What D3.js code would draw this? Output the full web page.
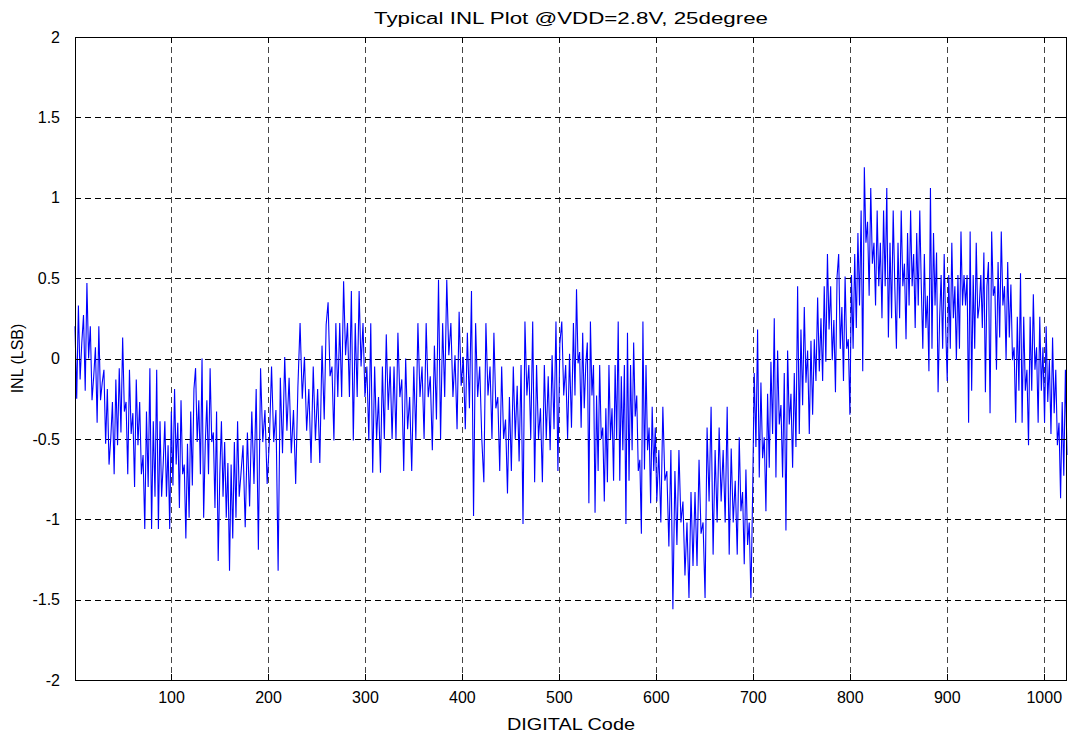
<!DOCTYPE html>
<html><head><meta charset="utf-8">
<script src="https://cdn.jsdelivr.net/npm/d3@7"></script>
<style>
html,body{margin:0;padding:0;background:#fff;}
text{font-family:"Liberation Sans",Arial,sans-serif;}
</style></head>
<body><svg id="c" width="1070" height="735"></svg>
<script>
const title = "Typical INL Plot @VDD=2.8V, 25degree";
const xLabel = "DIGITAL Code";
const yLabel = "INL (LSB)";
const xTicks = [100,200,300,400,500,600,700,800,900,1000];
const yTicks = [-2,-1.5,-1,-0.5,0,0.5,1,1.5,2];
const xDomain = [1,1024];
const yDomain = [-2,2];
// start code of each block of readings (last entry = final code)
const blockStarts = [1,87,172,258,344,429,515,601,686,772,858,943,1024];
const inl01 = [0.2,-0.25,0.33,-0.13,0.1,0.27,-0.2,0.47,0,0.2,-0.26,-0.11,0.07,-0.4,0.2,-0.26,-0.15,-0.07,-0.53,-0.19,-0.66,-0.5,-0.27,-0.72,-0.13,-0.54,-0.06,-0.46,0.13,-0.33,-0.27,-0.72,-0.07,-0.47,-0.34,-0.8,-0.13,-0.54,-0.27,-0.72,-0.6,-1.06,-0.33,-0.8,-0.06,-1.06,-0.39,-0.86,-0.07];
const inl02 = [-1.06,-0.39,-0.86,-0.65,-0.39,-0.86,-0.54,-1.06,-0.33,-0.79,-0.19,-0.66,-0.4,-0.93,-0.26,-0.72,-0.66,-1.12,-0.53,-0.99,-0.33,-0.79,-0.19,-0.06,-0.52,-0.26,-0.72,0,-0.99,-0.53,-0.26,-0.72,-0.06,-0.52,-0.46,-0.93,-0.33,-1.26,-0.72,-0.39,-0.86,-0.52,-0.99,-0.65,-1.32,-0.66,-1.12,-0.52,-0.99,-0.39,-0.86];
const inl03 = [-0.73,-0.54,-1.05,-0.46,-0.92,-0.33,-0.78,-0.19,-1.19,-0.06,-0.52,-0.32,-0.78,-0.52,-0.05,-0.52,-0.32,-1.32,-0.12,-0.59,0.01,-0.45,-0.12,-0.59,-0.32,-0.78,-0.18,0.22,-0.25,0.01,-0.45,-0.19,-0.65,-0.05,-0.51,-0.19,-0.65,0.08];
const inl04 = [-0.38,0.21,0.35,-0.11,-0.05,-0.51,0.22,-0.24,0.22,-0.24,0.48,0.02,0.22,-0.24,0.42,-0.51,0.22,-0.24,0.42,-0.05,0.22,-0.24,-0.05,-0.51,0.22,-0.71,-0.05,-0.5,-0.24,-0.71,-0.05,-0.5,0.15,-0.32,-0.05,-0.5,-0.05,-0.5,0.16,-0.24,-0.13,-0.7,0];
const inl05 = [-0.44,-0.24,-0.7,-0.05,-0.5,0.22,-0.24,-0.05,-0.5,0.22,-0.24,-0.11,-0.57,0.08,-0.38,0.49,-0.5,0.22,-0.24,0.49,0.02,0.22,-0.24,0.02,-0.44,0.29,-0.17,0.01,-0.44,0.16,-0.31,0.42,-0.98,0.22,-0.24,-0.05,-0.5,-0.77,0.22,-0.23];
const inl06 = [-0.05,-0.5,0.16,-0.31,-0.24,-0.7,-0.05,-0.5,-0.38,-0.84,-0.24,-0.7,-0.05,-0.5,-0.17,-0.64,-0.04,-1.03,0.23,-0.23,-0.04,-0.5,0.23,-0.77,-0.04,-0.5,-0.31,-0.77,-0.04,-0.5,-0.11,-0.57,0.02,-0.44,0.23,-0.7,0.09,0.23,-0.23,-0.04,-0.5,0.03,-0.43];
const inl07 = [0.22,-0.23,0.43,-0.03,0.04,-0.43,0.16,-0.31,-0.04,0.1,-0.9,0.23,-0.23,-0.04,-0.96,-0.23,-0.7,-0.04,-0.5,-0.43,-0.89,-0.31,-0.77,-0.04,-0.5,-0.31,-0.76,-0.04,-0.5,0.23,-0.76,-0.11,-0.57,-0.04,-1.03,0.16,-0.76,-0.04,-0.57,0.1,-0.36,-0.23,-0.7,-0.63,-1.09,0.23,-0.69,-0.04,-0.57,-0.43,-0.9,-0.3,-0.7,-0.43];
const inl08 = [-0.89,-0.57,-1.02,-0.3,-0.76,-0.7,-1.17,-0.57,-1.56,-0.7,-1.16,-0.57,-1.02,-0.89,-1.35,-1.02,-1.49,-0.83,-1.29,-0.83,-1.29,-0.63,-1.09,-1.02,-1.49,-0.43,-0.89,-0.3,-1.22,-0.57,-1.02,-0.43,-0.89,-0.57,-1.02,-0.3,-1.22,-0.56,-1.02,-0.76,-1.22];
const inl09 = [-0.49,-0.95,-0.83,-1.28,-0.69,-1.16,-1.02,-1.49,-0.86,-0.09,-0.55,0.18,-0.74,-0.15,-0.62,-0.49,-0.95,-0.22,-0.68,-0.02,-0.47,0.25,-0.74,0.05,-0.41,-0.29,-0.74,-0.09,-1.07,0.05,-0.41,-0.22,-0.68,-0.09,-0.55,0.45,-0.47,0.18,-0.29,0.32,-0.15,0.05,-0.47,0.11,-0.35,0.12,-0.14,0.38,-0.08,0.25];
const inl10 = [-0.14,0.45,-0.02,0.65,0.18,0.45,-0.01,0.24,-0.21,0.51,0.65,0.06,0.32,-0.14,0.51,0.06,0.12,-0.35,0.52,0.06,0.65,0.19,0.78,0.33,0.92,-0.08,1.19,0.72,0.85,0.39,1.06,0.59,0.72,0.33,0.92,0.45,0.72,0.25,0.92,0.45,1.06,0.13,0.72,0.25,0.92,0.45,0.06,0.72,0.25,0.92,0.45,0.59];
const inl11 = [0.12,0.78,0.33,0.92,0.45,0.65,0.19,0.78,0.33,0.92,0.45,0.06,0.65,0.19,0.39,-0.08,1.06,0.06,0.78,0.33,0.66,-0.21,0.25,0.52,0.06,0.65,0.19,-0.14,0.52,0.06,0.72,0.25,0.45,-0.01,0.52,0.06,0.79,0.33,0.52,0.33,0.52,-0.4,0.79,-0.2,0.52,0.06,0.72,0.25,0.33,0.52,0.19,0.66,-0.21,0.45];
const inl12 = [0.6,-0.34,0.79,0.39,0.45,-0.07,0.6,0.13,0.79,0.33,0.45,-0.01,0.6,0.13,0.46,-0.01,0.07,-0.4,0.26,-0.2,0.53,-0.4,0.26,-0.2,-0.07,-0.54,0.26,-0.2,0.4,-0.07,0.07,-0.4,0.26,-0.2,0.07,-0.4,0.2,-0.27,-0.01,-0.47,0.13,-0.34,-0.07,-0.54,-0.4,-0.87,-0.27,-0.73,-0.07,-0.6];
const blocks = [inl01,inl02,inl03,inl04,inl05,inl06,inl07,inl08,inl09,inl10,inl11,inl12];

// build points (code, value)
const points = [];
blocks.forEach((b,i)=>{
  const s = blockStarts[i], e = blockStarts[i+1];
  const last = (i === blocks.length-1);
  b.forEach((v,j)=>{
    const code = last ? s + j*(e-s)/(b.length-1) : s + j*(e-s)/b.length;
    points.push([code, v]);
  });
});

const L=75, R=1067, T=37, B=680;
const svg = d3.select("#c");
const x = d3.scaleLinear().domain(xDomain).range([L,R]);
const y = d3.scaleLinear().domain(yDomain).range([B,T]);

// grid
const grid = svg.append("g").attr("stroke","#000").attr("stroke-width",1)
  .attr("stroke-dasharray","6,4").attr("shape-rendering","crispEdges");
xTicks.forEach(t=>grid.append("line").attr("x1",Math.round(x(t))+0.5).attr("x2",Math.round(x(t))+0.5).attr("y1",T).attr("y2",B).attr("stroke","#444"));
yTicks.filter(t=>t>-2 && t<2).forEach(t=>grid.append("line").attr("x1",L).attr("x2",R).attr("y1",Math.round(y(t))+0.5).attr("y2",Math.round(y(t))+0.5));

// data line
const line = d3.line().x(d=>x(d[0])).y(d=>y(d[1]));
svg.append("path").datum(points).attr("d",line).attr("fill","none")
  .attr("stroke","#0000ff").attr("stroke-width",1.1).attr("stroke-linejoin","miter");

// axes (MATLAB style: inward ticks on all sides)
const tickLen = 6;
const fmt = d=>String(d);
const gB = svg.append("g").attr("transform",`translate(0,${B})`)
  .call(d3.axisBottom(x).tickValues(xTicks).tickSizeInner(-tickLen).tickSizeOuter(0).tickPadding(12).tickFormat(fmt));
const gT = svg.append("g").attr("transform",`translate(0,${T})`)
  .call(d3.axisTop(x).tickValues(xTicks).tickSizeInner(-tickLen).tickSizeOuter(0).tickFormat(""));
const gL = svg.append("g").attr("transform",`translate(${L},0)`)
  .call(d3.axisLeft(y).tickValues(yTicks).tickSizeInner(-tickLen).tickSizeOuter(0).tickPadding(15).tickFormat(fmt));
const gR = svg.append("g").attr("transform",`translate(${R},0)`)
  .call(d3.axisRight(y).tickValues(yTicks).tickSizeInner(-tickLen).tickSizeOuter(0).tickFormat(""));
[gB,gT,gL,gR].forEach(g=>{
  g.select(".domain").remove();
  g.selectAll("line").attr("stroke","#000").attr("shape-rendering","crispEdges");
  g.selectAll("text").attr("font-size",16).attr("fill","#000").attr("font-family","Liberation Sans, Arial, sans-serif");
});
svg.append("rect").attr("x",L+0.5).attr("y",T+0.5).attr("width",R-L-1).attr("height",B-T)
  .attr("fill","none").attr("stroke","#000").attr("stroke-width",1).attr("shape-rendering","crispEdges");

// labels
svg.append("text").attr("x",(L+R)/2).attr("y",24).attr("text-anchor","middle")
  .attr("font-size",16).attr("textLength",394).attr("lengthAdjust","spacingAndGlyphs").text(title);
svg.append("text").attr("x",(L+R)/2).attr("y",730).attr("text-anchor","middle")
  .attr("font-size",16).attr("textLength",128).attr("lengthAdjust","spacingAndGlyphs").text(xLabel);
svg.append("text").attr("transform",`translate(23,${(T+B)/2}) rotate(-90)`).attr("text-anchor","middle")
  .attr("font-size",16).text(yLabel);
</script></body></html>
